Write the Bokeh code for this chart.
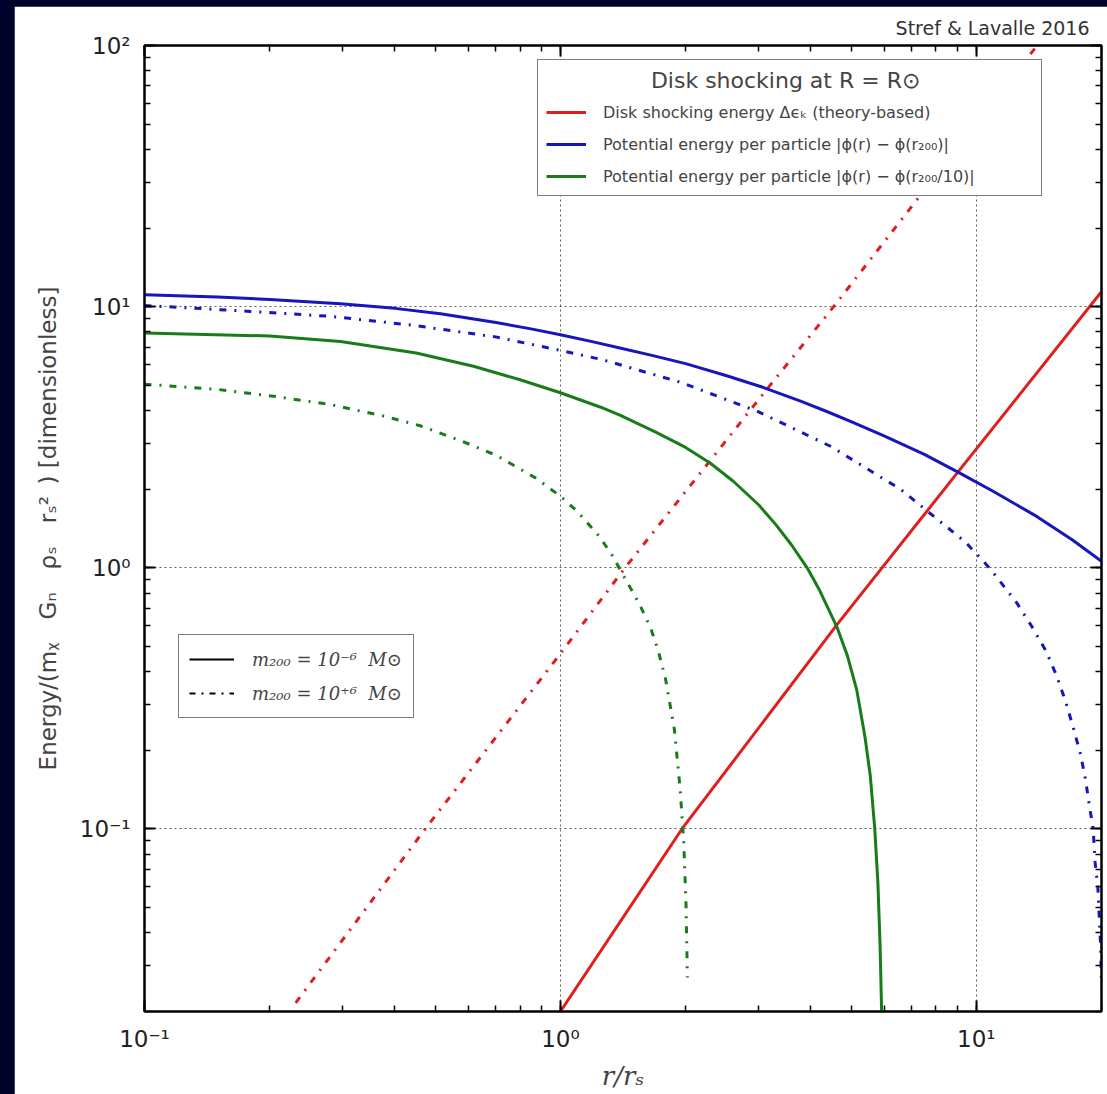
from bokeh.plotting import figure
from bokeh.models import (Range1d, LogAxis, LogTicker, CustomJSTickFormatter,
                          Legend, LegendItem)
from bokeh.layouts import column
from bokeh.embed import file_html
from bokeh.resources import INLINE

# ---------------- data ----------------
red_solid_x = [1.0, 1.96, 4.63, 9.06, 20.0]
red_solid_y = [0.02, 0.1, 0.607, 2.34, 11.4]

red_dd_x = [0.231, 0.473, 1.0, 1.43, 3.17, 4.54, 14.0]
red_dd_y = [0.0216, 0.1, 0.469, 1.0, 4.93, 10.0, 100.0]

blue_solid_x = [0.1, 0.15, 0.2, 0.296, 0.4, 0.515, 0.7, 0.85, 1.0, 1.2, 1.39, 1.65,
                2.0, 2.5, 3.08, 3.78, 4.4, 5.0, 6.0, 7.5, 9.06, 11.0, 14.0, 17.0, 20.0]
blue_solid_y = [11.1, 10.9, 10.65, 10.25, 9.85, 9.4, 8.7, 8.22, 7.8, 7.33, 6.95, 6.52,
                6.05, 5.45, 4.9, 4.35, 3.95, 3.63, 3.2, 2.72, 2.32, 1.96, 1.57, 1.28, 1.06]

blue_dd_x = [0.1, 0.113, 0.18, 0.28, 0.444, 0.698, 0.937, 1.26, 1.94, 2.97, 4.46,
             6.57, 9.41, 10.4, 10.9, 12.5, 13.6, 14.7, 15.6, 16.4, 17.1, 17.8,
             18.3, 18.7, 19.1, 19.3, 19.6, 19.9, 20.0]
blue_dd_y = [10.1, 10.0, 9.59, 9.18, 8.48, 7.66, 6.95, 6.27, 5.14, 3.98, 2.92,
             2.0, 1.255, 1.06, 0.972, 0.736, 0.596, 0.481, 0.386, 0.307, 0.245, 0.194,
             0.155, 0.123, 0.1, 0.0746, 0.0599, 0.036, 0.025]

green_solid_x = [0.1, 0.2, 0.296, 0.45, 0.618, 0.8, 1.0, 1.25, 1.39, 1.7, 2.0, 2.29,
                 2.6, 3.0, 3.3, 3.6, 3.92, 4.2, 4.63, 4.9, 5.16, 5.4, 5.56, 5.70,
                 5.8, 5.87, 5.92]
green_solid_y = [7.93, 7.72, 7.35, 6.65, 5.91, 5.25, 4.68, 4.12, 3.84, 3.3, 2.89, 2.52,
                 2.15, 1.74, 1.46, 1.22, 1.0, 0.82, 0.59, 0.46, 0.34, 0.225, 0.16, 0.1,
                 0.062, 0.036, 0.02]

green_dd_x = [0.1, 0.15, 0.204, 0.28, 0.376, 0.46, 0.581, 0.7, 0.871, 1.0, 1.1, 1.24,
              1.33, 1.43, 1.55, 1.65, 1.72, 1.79, 1.88, 1.94, 1.98, 2.005, 2.02]
green_dd_y = [5.05, 4.82, 4.54, 4.22, 3.81, 3.5, 3.05, 2.7, 2.21, 1.88, 1.64, 1.32,
              1.12, 0.912, 0.725, 0.585, 0.48, 0.375, 0.240, 0.143, 0.0884, 0.0507, 0.027]

legend1_title = "Disk shocking at R = R⊙"
legend1_labels = ["Disk shocking energy Δϵₖ (theory-based)",
                  "Potential energy per particle |ϕ(r) − ϕ(r₂₀₀)|",
                  "Potential energy per particle |ϕ(r) − ϕ(r₂₀₀/10)|"]
legend2_labels = ["m₂₀₀ = 10⁻⁶  M⊙", "m₂₀₀ = 10⁺⁶  M⊙"]
credit = "Stref & Lavalle 2016"
x_label = "r/rₛ"
y_label = "Energy/(mᵪ\u2003Gₙ\u2003ρₛ\u2003rₛ²\u2002) [dimensionless]"

RED, BLUE, GREEN = "#e01e1e", "#1616bc", "#187c18"
DASHDOT = "7 8 2 8"
LW = 3
NAN = float("nan")

p = figure(width=1093, height=1088, x_axis_type="log", y_axis_type="log",
           x_range=Range1d(0.1, 20), y_range=Range1d(0.02, 100),
           output_backend="svg", toolbar_location=None,
           min_border_left=130, min_border_right=6, min_border_top=39,
           min_border_bottom=83, background_fill_color="white",
           border_fill_color="white")

p.title.text = credit
p.title.align = "right"
p.title.text_font = "DejaVu Sans"
p.title.text_font_size = "19px"
p.title.text_font_style = "normal"
p.title.text_color = "#333333"
p.title.offset = 12
p.title.standoff = 14

sup_code = """
const m = {'-':'⁻','0':'⁰','1':'¹','2':'²','3':'³','4':'⁴','5':'⁵','6':'⁶','7':'⁷','8':'⁸','9':'⁹'};
const e = Math.round(Math.log10(tick));
return '10' + String(e).split('').map(c => m[c]).join('');
"""
fmt = CustomJSTickFormatter(code=sup_code)
blank = CustomJSTickFormatter(code="return '';")


def style_axis(ax, labels=True):
    ax.ticker = LogTicker(num_minor_ticks=10)
    ax.axis_line_color = "black"
    ax.axis_line_width = 2
    ax.major_tick_in = 11
    ax.major_tick_out = 0
    ax.minor_tick_in = 6
    ax.minor_tick_out = 0
    ax.major_tick_line_width = 2
    ax.minor_tick_line_width = 1.5
    ax.major_tick_line_color = "black"
    ax.minor_tick_line_color = "black"
    if labels:
        ax.formatter = fmt
        ax.major_label_text_font = "DejaVu Sans"
        ax.major_label_text_font_size = "23px"
        ax.major_label_text_color = "#222222"
    else:
        ax.formatter = blank
        ax.major_label_standoff = 0


style_axis(p.xaxis[0])
style_axis(p.yaxis[0])
p.xaxis[0].major_label_standoff = 14
p.yaxis[0].major_label_standoff = 14
p.xaxis[0].axis_label = x_label
p.xaxis[0].axis_label_text_font = "DejaVu Serif"
p.xaxis[0].axis_label_text_font_style = "italic"
p.xaxis[0].axis_label_text_font_size = "26px"
p.xaxis[0].axis_label_standoff = 6
p.yaxis[0].axis_label = y_label
p.yaxis[0].axis_label_text_font = "DejaVu Sans"
p.yaxis[0].axis_label_text_font_style = "normal"
p.yaxis[0].axis_label_text_font_size = "23px"
p.yaxis[0].axis_label_standoff = 16

top = LogAxis()
right = LogAxis()
style_axis(top, labels=False)
style_axis(right, labels=False)
p.add_layout(top, "above")
p.add_layout(right, "right")

p.outline_line_color = "black"
p.outline_line_width = 2

for g in (p.xgrid[0], p.ygrid[0]):
    g.ticker = LogTicker(num_minor_ticks=10)
    g.grid_line_color = "#333333"
    g.grid_line_dash = "2 3"
    g.grid_line_width = 1
    g.grid_line_alpha = 0.8

r_red = p.line(red_solid_x, red_solid_y, line_color=RED, line_width=LW)
p.line(red_dd_x, red_dd_y, line_color=RED, line_width=LW, line_dash=DASHDOT)
r_blue = p.line(blue_solid_x, blue_solid_y, line_color=BLUE, line_width=LW)
p.line(blue_dd_x, blue_dd_y, line_color=BLUE, line_width=LW, line_dash=DASHDOT)
r_green = p.line(green_solid_x, green_solid_y, line_color=GREEN, line_width=LW)
p.line(green_dd_x, green_dd_y, line_color=GREEN, line_width=LW, line_dash=DASHDOT)

# legend-only proxies (no visible mark)
k_solid = p.line(x=[NAN], y=[NAN], line_color="black", line_width=2)
k_dd = p.line(x=[NAN], y=[NAN], line_color="black", line_width=2, line_dash="6 6 2 6")

leg1 = Legend(items=[LegendItem(label=legend1_labels[0], renderers=[r_red]),
                     LegendItem(label=legend1_labels[1], renderers=[r_blue]),
                     LegendItem(label=legend1_labels[2], renderers=[r_green])],
              location=(393, 815),
              title="\u00a0" * 15 + legend1_title,
              title_text_font="DejaVu Sans", title_text_font_size="22px",
              title_text_font_style="normal", title_standoff=8,
              label_text_font="DejaVu Sans", label_text_font_size="16px",
              glyph_width=40, glyph_height=22, label_height=22, label_width=430,
              label_standoff=17, spacing=10, padding=8, margin=0,
              border_line_color="black", border_line_width=1.5,
              background_fill_color="white", background_fill_alpha=1)
p.add_layout(leg1)

leg2 = Legend(items=[LegendItem(label=legend2_labels[0], renderers=[k_solid]),
                     LegendItem(label=legend2_labels[1], renderers=[k_dd])],
              location=(34, 293),
              label_text_font="DejaVu Serif", label_text_font_size="18px",
              label_text_font_style="italic",
              glyph_width=45, glyph_height=28, label_height=28, label_width=151,
              label_standoff=18, spacing=6, padding=10, margin=0,
              border_line_color="black", border_line_width=1.5,
              background_fill_color="white", background_fill_alpha=1)
p.add_layout(leg2)

root = column(p, styles={"background-color": "#02032b",
                         "padding": "6px 0px 0px 14px"})

open("out.html", "w").write(file_html(root, INLINE))
